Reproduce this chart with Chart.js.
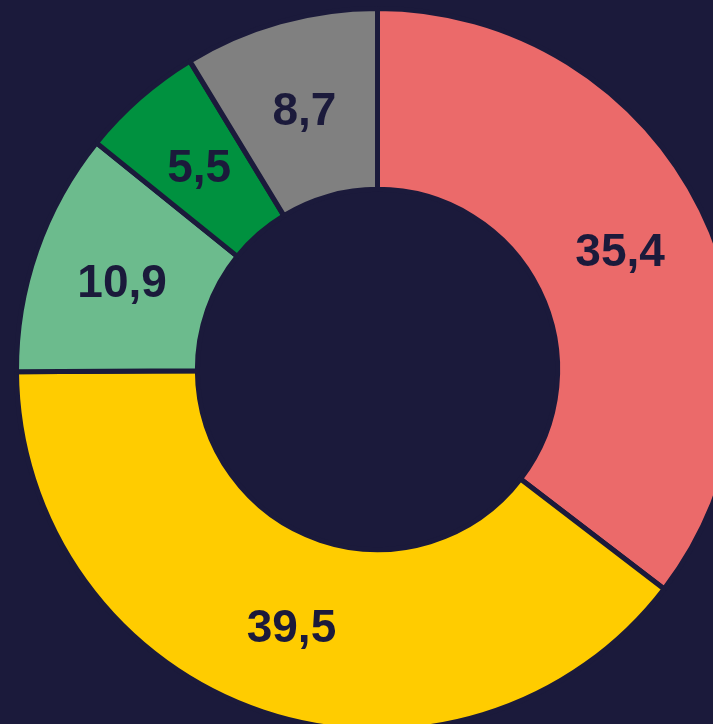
<!DOCTYPE html>
<html>
<head>
<meta charset="utf-8">
<script src="https://cdn.jsdelivr.net/npm/chart.js@4"></script>
<style>
  html, body { margin: 0; padding: 0; background: #1b1a3b; overflow: hidden; }
  #wrap { width: 713px; height: 724px; overflow: hidden; position: relative; }
  canvas { position: absolute; left: 0; top: 0; }
</style>
</head>
<body>
<div id="wrap"><canvas id="donut" width="755" height="739"></canvas></div>
<script>
const labels = ['A', 'B', 'C', 'D', 'E'];
const values = [35.4, 39.5, 10.9, 5.5, 8.7];
const colors = ['#eb6a6a', '#ffcc00', '#6cbb8d', '#00913f', '#808080'];
const bg = '#1b1a3b';

// draws the value in the middle of each slice, with a decimal comma
const sliceLabels = {
    id: 'sliceLabels',
    afterDatasetsDraw(chart) {
        const ctx = chart.ctx;
        const meta = chart.getDatasetMeta(0);
        const size = 46;
        ctx.save();
        ctx.font = 'bold ' + size + 'px "Liberation Sans", Arial, sans-serif';
        ctx.fillStyle = bg;
        ctx.textAlign = 'center';
        ctx.textBaseline = 'alphabetic';
        meta.data.forEach((arc, i) => {
            const p = arc.tooltipPosition();
            // centre the digits (cap height) on the slice midpoint
            ctx.fillText(String(values[i]).replace('.', ','), p.x, p.y + size * 0.716 / 2);
        });
        ctx.restore();
    }
};

new Chart(document.getElementById('donut'), {
    type: 'doughnut',
    data: {
        labels: labels,
        datasets: [{
            data: values,
            backgroundColor: colors,
            borderColor: bg,
            borderWidth: 5
        }]
    },
    options: {
        responsive: false,
        animation: false,
        radius: 361,
        cutout: '49.9%',
        layout: { padding: 0 },
        plugins: {
            legend: { display: false },
            tooltip: { enabled: false }
        }
    },
    plugins: [sliceLabels]
});
</script>
</body>
</html>
